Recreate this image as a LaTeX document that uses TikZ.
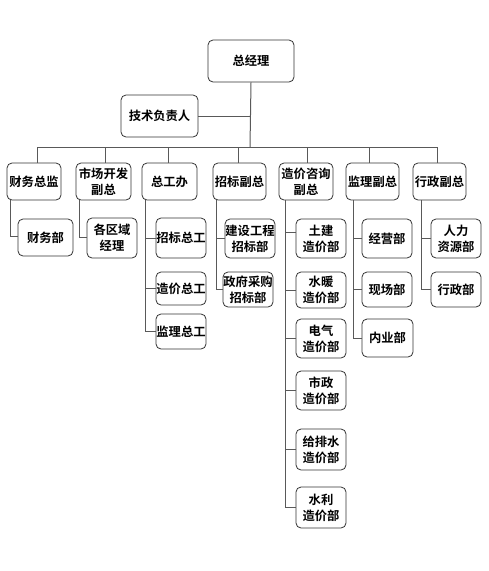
\documentclass[tikz,border=0pt]{standalone}
\usepackage{fontspec}
\setmainfont{Noto Sans CJK SC Bold}
\begin{document}
\begin{tikzpicture}[x=1pt,y=-1pt,
  box/.style={draw=black!80, line width=0.8pt, rounded corners=5pt, fill=white,
    inner sep=0pt, align=center, font=\fontsize{12.3}{16}\selectfont},
  conn/.style={draw=black!65, line width=1pt}]
\useasboundingbox (0,0) rectangle (489,571);
% top
\node[box, minimum width=86pt, minimum height=42pt] (gm) at (251,61) {总经理};
\node[box, minimum width=77pt, minimum height=42pt] (tech) at (159.5,116) {技术负责人};
% level 2
\node[box, minimum width=54pt, minimum height=37pt] (cw) at (34,181.5) {财务总监};
\node[box, minimum width=55pt, minimum height=37pt] (sc) at (103.5,181.5) {市场开发\\副总};
\node[box, minimum width=55pt, minimum height=37pt] (zgb) at (169.5,181.5) {总工办};
\node[box, minimum width=53pt, minimum height=37pt] (zb) at (239.5,181.5) {招标副总};
\node[box, minimum width=54pt, minimum height=37pt] (zj) at (306,181.5) {造价咨询\\副总};
\node[box, minimum width=53pt, minimum height=37pt] (jl) at (372.5,181.5) {监理副总};
\node[box, minimum width=53pt, minimum height=37pt] (xz) at (439.5,181.5) {行政副总};
% level 3
\node[box, minimum width=55pt, minimum height=37pt] (cwb) at (45.5,237.5) {财务部};
\node[box, minimum width=50pt, minimum height=40pt] (qy) at (112,238) {各区域\\经理};
\node[box, minimum width=50pt, minimum height=40pt] (zbzg) at (181,238) {招标总工};
\node[box, minimum width=50pt, minimum height=33pt] (zjzg) at (181,288.5) {造价总工};
\node[box, minimum width=50pt, minimum height=35pt] (jlzg) at (181,331.5) {监理总工};
\node[box, minimum width=50pt, minimum height=39pt] (jsgc) at (250,238.5) {建设工程\\招标部};
\node[box, minimum width=50pt, minimum height=35pt] (zfcg) at (248,289.5) {政府采购\\招标部};
\node[box, minimum width=50pt, minimum height=39pt] (tj) at (321,238.5) {土建\\造价部};
\node[box, minimum width=50pt, minimum height=36pt] (sn) at (321,290) {水暖\\造价部};
\node[box, minimum width=50pt, minimum height=39pt] (dq) at (321,338.5) {电气\\造价部};
\node[box, minimum width=50pt, minimum height=39pt] (sz) at (321,390.5) {市政\\造价部};
\node[box, minimum width=50pt, minimum height=41pt] (gps) at (321,449.5) {给排水\\造价部};
\node[box, minimum width=50pt, minimum height=41pt] (sl) at (321,507.5) {水利\\造价部};
\node[box, minimum width=50pt, minimum height=39pt] (jy) at (387,238.5) {经营部};
\node[box, minimum width=50pt, minimum height=35pt] (xc) at (387,289.5) {现场部};
\node[box, minimum width=51pt, minimum height=38pt] (ny) at (387.5,338) {内业部};
\node[box, minimum width=50pt, minimum height=39pt] (rl) at (456,238.5) {人力\\资源部};
\node[box, minimum width=50pt, minimum height=35pt] (xzb) at (456,289.5) {行政部};
% connectors
\coordinate (busL) at (37,147);
\coordinate (busR) at (437,147);
\coordinate (busM) at (250,147);
\draw[conn] (gm.south) -- (busM);
\draw[conn] (tech.east) -- (tech.east -| gm.south);
\draw[conn] (busL) -- (busR);
\foreach \n/\x in {cw/37,sc/105,zgb/168,zb/238,zj/307,jl/369,xz/437}
  \draw[conn] (\x,147) -- (\n.north -| \x,0);
% children
\draw[conn] ([xshift=4pt]cw.south west) |- ([yshift=1pt]cwb.west);
\draw[conn] ([xshift=4pt]sc.south west) |- ([yshift=1pt]qy.west);
\foreach \c in {zbzg,zjzg,jlzg}
  \draw[conn] ([xshift=4pt]zgb.south west) |- (\c.west);
\foreach \c in {jsgc,zfcg}
  \draw[conn] ([xshift=4pt]zb.south west) |- (\c.west);
\draw[conn] ([xshift=7pt]zj.south west) |- ([yshift=6pt]tj.west);
\foreach \c in {sn,dq,sz,gps,sl}
  \draw[conn] ([xshift=7pt]zj.south west) |- (\c.west);
\foreach \c in {jy,xc,ny}
  \draw[conn] ([xshift=8pt]jl.south west) |- (\c.west);
\foreach \c in {rl,xzb}
  \draw[conn] ([xshift=9pt]xz.south west) |- (\c.west);
\end{tikzpicture}
\end{document}
